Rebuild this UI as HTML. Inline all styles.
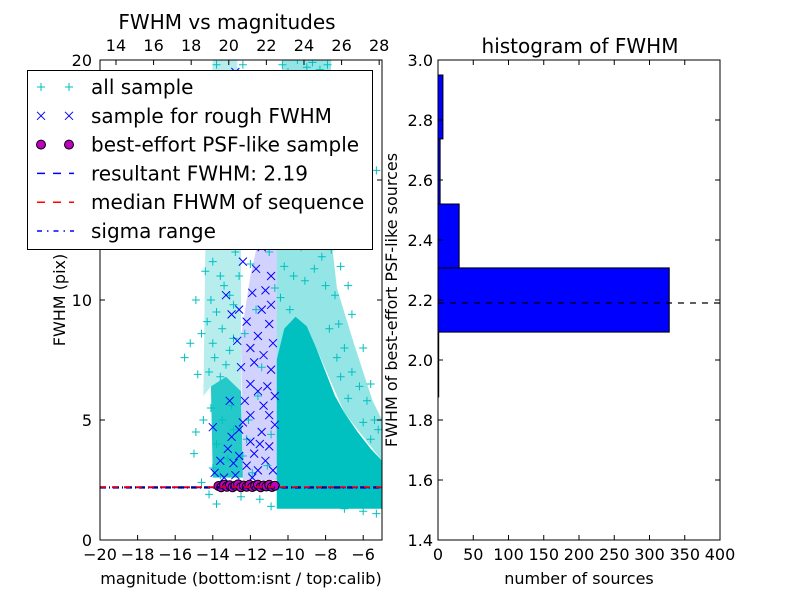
<!DOCTYPE html>
<html><head><meta charset="utf-8"><style>
body{margin:0;background:#fff;width:800px;height:600px;overflow:hidden}
svg{display:block;font-family:"DejaVu Sans","Liberation Sans",sans-serif}
</style></head><body>
<svg id="fig" width="800" height="600" xmlns="http://www.w3.org/2000/svg">
<g id="left"></g>
<g id="right"></g>
<g id="legend"></g>
</svg>
<script>
const NS="http://www.w3.org/2000/svg";
// ---- scatter data (magnitude, FWHM) ----
const allSample=[
[-14.2,7],[-14,8.2],[-13.8,9.5],[-13.6,11],[-13.9,12.5],[-13.4,13.8],[-13.1,10.2],[-12.9,8.4],[-13.3,7.3],[-13.7,14.9],[-13.2,16],[-12.8,12],[-14.1,10],[-13.5,8.8],[-12.7,17.5],[-13,19.4],[-13.8,19.8],[-12.6,14.5],[-13.3,12.7],[-14.3,9.1],[-13.6,6.8],[-12.9,9.8],[-13.1,7.9],[-13.9,7.6],[-13.4,10.6],[-12.6,11],[-13.7,13],[-14,11.6],[-15.2,8.2],[-15.5,7.6],[-14.8,6.9],[-14.5,5],[-14.6,8.6],[-14.4,11.2],[-14.9,10],
[-12.2,15],[-11.8,18],[-11.5,13.4],[-12.3,8.6],[-11.2,16.7],[-10.8,19],[-12,11.5],[-11,12],[-12.4,19.8],[-11.6,6],[-12.1,5],[-11.4,7.2],[-10.7,10.5],[-12.4,3.5],[-11.9,2.8],[-11.1,3.1],[-10.9,4.4],[-12.2,4.2],[-11.7,9.6],[-10.8,14.2],
[-10.3,19.8],[-10,19.5],[-9.5,20],[-9,19.7],[-8.7,19.9],[-8.3,19.6],[-7.9,19.8],[-10.2,18],[-9.6,17.6],[-9.1,18.3],[-8.6,17.8],[-8,17.2],[-10.4,16.3],[-9.8,16],[-9.3,15.5],[-8.8,16.4],[-8.3,15.2],[-7.8,16],[-10.1,14.6],[-9.6,14.2],[-9,13.8],[-8.5,14],[-8.1,13.2],[-7.6,13.9],[-10.3,13],[-9.8,12.6],[-9.3,12.2],[-8.7,12.6],[-8.2,11.8],[-7.7,12.1],[-10.2,11.4],[-9.7,11],[-9.1,10.8],[-8.6,11.3],[-8,10.6],[-7.5,10.2],[-10.4,10.1],[-9.9,9.6],[-7.3,9],[-7.8,8.8],[-7,8],[-6.6,7],[-6.2,6.4],[-5.8,5.8],[-5.4,5],[-5.2,4.6],[-6.8,5.9],[-7.2,6.8],[-7.4,7.6],[-6,4.9],[-5.6,4.2],[-9.4,17],[-8.9,15],[-9.5,13.2],[-8.4,12.9],[-7.2,11.4],[-6.6,9.4],[-6,8],[-5.6,6.5],[-5.3,15.4],[-6.4,12.8],[-7.4,14.8],[-6.8,10.6],[-10,15.3],[-9.2,19],[-8.5,18.7],
[-14.2,1.9],[-13.8,1.5],[-12.5,1.8],[-11.5,1.7],[-10.9,1.4],[-14.6,2.4],[-15,3.6],[-14.9,4.5],[-5.3,1.1],[-6,1.2],[-7,1.3],
[-14,3],[-13.8,4],[-13.5,5],[-13.2,3.4],[-13,5.6],[-14.1,5.5],[-13.6,2.7],[-12.9,4.6]
];
// dense core outlines of the all-sample cloud (magnitude, FWHM)
const denseRight=[[-10.6,1.3],[-10.6,7.5],[-10.2,8.8],[-9.6,9.3],[-9,8.9],[-8.5,8],[-8,7],[-7.5,6],[-7,5.3],[-6.3,4.5],[-5.6,3.8],[-5,3.3],[-5,1.3],[-8,1.3]];
const denseLeft=[[-14,2.6],[-14.1,6.4],[-13.3,6.8],[-12.5,6.2],[-12.4,2.6]];
// medium-density outlines of the all-sample cloud
const mediumRight=[[-10.6,7.5],[-10.6,13],[-10.3,20],[-7.7,20],[-7.9,14],[-7.4,10.5],[-6.5,8.2],[-5.5,5.8],[-5,5],[-5,3.3],[-7,5.3],[-8.5,8],[-9.6,9.3]];
const mediumLeft=[[-14.5,6],[-14.4,12],[-14,20],[-12.7,20],[-12.5,12],[-12.5,6.2],[-13.3,6.8],[-14.1,6.4]];
const roughDense=[[-12.4,2.5],[-12.5,8.5],[-12,11],[-11.3,13.5],[-10.6,13.8],[-10.6,2.5]];
const roughSample=[
[-13.9,2.8],[-14,4.7],[-13.6,3.3],[-13.2,3.8],[-13,4.3],[-12.8,2.7],[-12.6,3.5],[-12.4,4.9],[-12.2,3.1],[-12,4.1],[-11.8,3.6],[-11.6,2.9],[-11.4,4.5],[-11.2,3.3],[-11,3.9],[-10.8,2.9],[-10.7,4.8],[-11.3,5.6],[-11.1,6.4],[-10.9,7.1],[-10.8,8.2],[-11,9],[-10.9,9.8],[-11.2,10.4],[-11.4,9.6],[-11.6,8.5],[-11.8,7.4],[-12,6.5],[-12.3,5.8],[-12.5,7.2],[-12.7,8.3],[-12.2,9.1],[-11.9,10.3],[-11.7,11.3],[-11.4,12.2],[-11.1,12.9],[-10.8,13.5],[-12.1,13],[-12.6,9.6],[-13,9.4],[-13.3,10.2],[-11.5,14],[-12.8,19.5],[-12.4,11.6],[-11,5.2],[-10.7,6],[-11.5,4],[-12.9,3.2],[-13.4,2.6],[-11.9,2.6],[-10.9,11],[-11.3,7.7],[-12,5.2],[-11.6,6.2],[-12.6,4.6],[-13.1,5.8],[-11.3,19.2],[-11.8,13.7],[-12,8]
];
const psfSample=[[-13.7,2.25],[-13.55,2.2],[-13.4,2.3],[-13.25,2.22],[-13.1,2.28],[-12.95,2.2],[-12.8,2.26],[-12.65,2.32],[-12.5,2.2],[-12.35,2.27],[-12.2,2.22],[-12.05,2.3],[-11.9,2.21],[-11.75,2.26],[-11.6,2.3],[-11.45,2.2],[-11.3,2.27],[-11.15,2.23],[-11,2.3],[-10.85,2.21],[-10.7,2.26]];
const resultFWHM=2.19, medianFWHM=2.21, sigmaLo=2.17, sigmaHi=2.21;
const bottomTicks=[-20,-18,-16,-14,-12,-10,-8,-6];
const topTicks=[14,16,18,20,22,24,26,28];
const leftYTicks=[0,5,10,15,20];
// ---- histogram data ----
const binEdges=[1.877,2.093,2.307,2.52,2.737,2.95];
const binCounts=[1,328,30,3,7];
const histYTicks=[1.4,1.6,1.8,2.0,2.2,2.4,2.6,2.8,3.0];
const histXTicks=[0,50,100,150,200,250,300,350,400];

const L={x0:100,x1:382,y0:60,y1:540}, R={x0:438,x1:720,y0:60,y1:540};
const sx=v=>L.x0+(v+20)/15*(L.x1-L.x0);
const stx=v=>sx(v-33.15);
const sy=v=>L.y1-v/20*(L.y1-L.y0);
const hx=v=>R.x0+v/400*(R.x1-R.x0);
const hy=v=>R.y1-(v-1.4)/1.6*(R.y1-R.y0);

function el(parent,tag,attrs,text){const e=document.createElementNS(NS,tag);for(const k in attrs)e.setAttribute(k,attrs[k]);if(text!==undefined)e.textContent=text;parent.appendChild(e);return e;}
const left=document.getElementById('left'), right=document.getElementById('right'), leg=document.getElementById('legend');

const defs=el(document.getElementById('fig'),'defs',{});
const cp=el(defs,'clipPath',{id:'lc'});el(cp,'rect',{x:L.x0,y:L.y0,width:L.x1-L.x0,height:L.y1-L.y0});
const pl=el(left,'g',{'clip-path':'url(#lc)'});



function poly(pts,name,fill,op){const p=el(pl,'polygon',{points:pts.map(d=>sx(d[0])+','+sy(d[1])).join(' '),fill:fill,'fill-opacity':op});

}
poly(mediumRight,'medium-all-sample-right','#00c0c0',0.42);
poly(mediumLeft,'medium-all-sample-left','#00c0c0',0.28);
poly(denseRight,'dense-all-sample-right','#00c0c0',1);
poly(denseLeft,'dense-all-sample-left','#00c0c0',0.85);
poly(roughDense,'dense-rough-sample','#3030ff',0.22);
function plus(g,x,y,c,s){el(g,'path',{d:`M${x-s},${y}H${x+s}M${x},${y-s}V${y+s}`,stroke:c,'stroke-width':1,fill:'none'});}
function cross(g,x,y,c,s){el(g,'path',{d:`M${x-s},${y-s}L${x+s},${y+s}M${x-s},${y+s}L${x+s},${y-s}`,stroke:c,'stroke-width':1,fill:'none'});}
allSample.forEach(d=>{const g=el(pl,'g',{});


plus(g,sx(d[0]),sy(d[1]),'#00c0c0',4);});
roughSample.forEach(d=>{const g=el(pl,'g',{});


cross(g,sx(d[0]),sy(d[1]),'#0000ff',4);});
psfSample.forEach(d=>{const c=el(pl,'circle',{cx:sx(d[0]),cy:sy(d[1]),r:4.5,fill:'#bf00bf',stroke:'#000','stroke-width':1});

});
function hline(v,c,dash,name){const l=el(pl,'line',{x1:L.x0,x2:L.x1,y1:sy(v),y2:sy(v),stroke:c,'stroke-width':1.5,'stroke-dasharray':dash});

}
hline(sigmaLo,'#00008b','6 3 1 3','sigma-low-line');
hline(sigmaHi,'#00008b','6 3 1 3','sigma-high-line');
hline(resultFWHM,'#0000ff','6 6','resultant-fwhm-line');
hline(medianFWHM,'#ff0000','6 6','median-fwhm-line');

const lf=el(left,'rect',{x:L.x0,y:L.y0,width:L.x1-L.x0,height:L.y1-L.y0,fill:'none',stroke:'#000'});


bottomTicks.forEach(t=>{const x=sx(t);el(left,'line',{x1:x,x2:x,y1:L.y1,y2:L.y1-5,stroke:'#000'});
const tx=el(left,'text',{x:x,y:L.y1+20,'text-anchor':'middle','font-size':16},t<0?'\u2212'+(-t):t);

});
topTicks.forEach(t=>{const x=stx(t);el(left,'line',{x1:x,x2:x,y1:L.y0,y2:L.y0+5,stroke:'#000'});
const tx=el(left,'text',{x:x,y:L.y0-9,'text-anchor':'middle','font-size':16},t);

});
leftYTicks.forEach(t=>{const y=sy(t);el(left,'line',{x1:L.x0,x2:L.x0+5,y1:y,y2:y,stroke:'#000'});el(left,'line',{x1:L.x1,x2:L.x1-5,y1:y,y2:y,stroke:'#000'});
const tx=el(left,'text',{x:L.x0-8,y:y+6,'text-anchor':'end','font-size':16},t);

});
let t;
t=el(left,'text',{x:227,y:29,'text-anchor':'middle','font-size':20},'FWHM vs magnitudes');

t=el(left,'text',{x:241,y:584,'text-anchor':'middle','font-size':16},'magnitude (bottom:isnt / top:calib)');

t=el(left,'text',{x:0,y:0,'text-anchor':'middle','font-size':16,transform:'translate(65,300) rotate(-90)'},'FWHM (pix)');


binCounts.forEach((c,i)=>{const r=el(right,'rect',{x:hx(0),y:hy(binEdges[i+1]),width:hx(c)-hx(0),height:hy(binEdges[i])-hy(binEdges[i+1]),fill:'#0000ff',stroke:'#000','stroke-width':1});

});
t=el(right,'line',{x1:R.x0,x2:R.x1,y1:hy(resultFWHM),y2:hy(resultFWHM),stroke:'#000','stroke-width':1.2,'stroke-dasharray':'6 6'});

t=el(right,'rect',{x:R.x0,y:R.y0,width:R.x1-R.x0,height:R.y1-R.y0,fill:'none',stroke:'#000'});

histYTicks.forEach(v=>{const y=hy(v);el(right,'line',{x1:R.x0,x2:R.x0+5,y1:y,y2:y,stroke:'#000'});el(right,'line',{x1:R.x1,x2:R.x1-5,y1:y,y2:y,stroke:'#000'});
const tx=el(right,'text',{x:R.x0-5,y:y+6,'text-anchor':'end','font-size':16},v.toFixed(1));

});
histXTicks.forEach(v=>{const x=hx(v);el(right,'line',{x1:x,x2:x,y1:R.y1,y2:R.y1-5,stroke:'#000'});el(right,'line',{x1:x,x2:x,y1:R.y0,y2:R.y0+5,stroke:'#000'});
const tx=el(right,'text',{x:x,y:R.y1+20,'text-anchor':'middle','font-size':16},v);

});
t=el(right,'text',{x:580,y:53,'text-anchor':'middle','font-size':20},'histogram of FWHM');

t=el(right,'text',{x:579,y:584,'text-anchor':'middle','font-size':16},'number of sources');

t=el(right,'text',{x:0,y:0,'text-anchor':'middle','font-size':16,transform:'translate(397,300) rotate(-90)'},'FWHM of best-effort PSF-like sources');


t=el(leg,'rect',{x:27.5,y:70.5,width:345,height:179,fill:'#fff',stroke:'#000'});

const labels=['all sample','sample for rough FWHM','best-effort PSF-like sample','resultant FWHM: 2.19','median FHWM of sequence','sigma range'];
labels.forEach((lab,i)=>{const y=87+i*28.8;const g=el(leg,'g',{});


if(i==0){plus(g,41,y,'#00c0c0',4);plus(g,69,y,'#00c0c0',4);}
if(i==1){cross(g,41,y,'#0000ff',4);cross(g,69,y,'#0000ff',4);}
if(i==2){el(g,'circle',{cx:41,cy:y,r:4.5,fill:'#bf00bf',stroke:'#000'});el(g,'circle',{cx:69,cy:y,r:4.5,fill:'#bf00bf',stroke:'#000'});}
if(i==3)el(g,'line',{x1:37,x2:74,y1:y,y2:y,stroke:'#0000ff','stroke-width':1.5,'stroke-dasharray':'8 8'});
if(i==4)el(g,'line',{x1:37,x2:74,y1:y,y2:y,stroke:'#ff0000','stroke-width':1.5,'stroke-dasharray':'8 8'});
if(i==5)el(g,'line',{x1:37,x2:74,y1:y,y2:y,stroke:'#0000ff','stroke-width':1.5,'stroke-dasharray':'5 5 1.5 5'});
el(g,'text',{x:91,y:y+7,'font-size':20},lab);});
</script>
</body></html>
